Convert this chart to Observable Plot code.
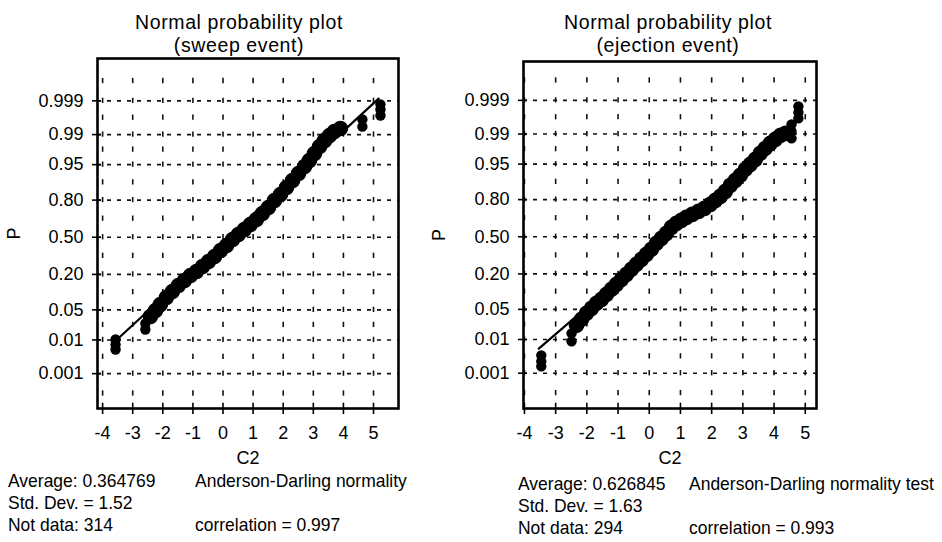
<!DOCTYPE html>
<html>
<head>
<meta charset="utf-8">
<script src="https://cdn.jsdelivr.net/npm/d3@7"></script>
<script src="https://cdn.jsdelivr.net/npm/@observablehq/plot@0.6"></script>
<style>
  body { margin: 0; background: #fff; }
  #wrap { position: relative; width: 942px; height: 542px; overflow: hidden;
          font-family: "Liberation Sans", Arial, Helvetica, sans-serif; color: #000; }
  .title { position: absolute; width: 320px; text-align: center; font-size: 19.5px; line-height: 22.5px;
           letter-spacing: 0.6px; white-space: nowrap; }
  .stat { position: absolute; font-size: 19px; line-height: 22px; white-space: nowrap;
          transform: scaleX(0.92); transform-origin: 0 0; }
  svg { position: absolute; }
</style>
</head>
<body>
<div id="wrap"></div>
<script>
// Probability axis ticks and C2 axis ticks
const pTicks = [0.001, 0.01, 0.05, 0.20, 0.50, 0.80, 0.95, 0.99, 0.999];
const pTickLabels = ["0.001", "0.01", "0.05", "0.20", "0.50", "0.80", "0.95", "0.99", "0.999"];
const c2Ticks = [-4, -3, -2, -1, 0, 1, 2, 3, 4, 5];

// Sweep event: ordered C2 values and their plotting probabilities
const sweepC2 = [-3.57, -3.57, -3.57, -2.58, -2.58, -2.41, -2.24, -2.08, -1.88, -1.68,
  -1.48, -1.28, -1.08, -0.88, -0.68, -0.48, -0.28, -0.08, 0.12, 0.32,
  0.51, 0.71, 0.91, 1.11, 1.31, 1.51, 1.71, 1.91, 2.11, 2.31,
  2.51, 2.71, 2.87, 3.04, 3.21, 3.37, 3.54, 3.70, 3.90, 4.63,
  4.63, 5.23, 5.23, 5.23];
const sweepP = [0.0103, 0.0075, 0.0055, 0.0183, 0.0253, 0.0362, 0.0486, 0.0639, 0.0863, 0.1096,
  0.1372, 0.1635, 0.1930, 0.2186, 0.2534, 0.2912, 0.3310, 0.3817, 0.4254, 0.4793,
  0.5243, 0.5691, 0.6133, 0.6558, 0.7043, 0.7495, 0.7971, 0.8333, 0.8699, 0.9004,
  0.9255, 0.9453, 0.9588, 0.9710, 0.9800, 0.9857, 0.9894, 0.9917, 0.9931, 0.9939,
  0.9962, 0.9971, 0.9981, 0.9987];
const sweepFitC2 = [-3.52, 5.17];
const sweepFitP = [0.0103, 0.99916];
const sweepStats = ["Average: 0.364769", "Std. Dev. = 1.52", "Not data: 314"];
const sweepTest = ["Anderson-Darling normality", "correlation = 0.997"];

// Ejection event: ordered C2 values and their plotting probabilities
const ejectC2 = [-3.46, -3.46, -3.46, -2.49, -2.49, -2.33, -2.17, -2.01, -1.85, -1.69,
  -1.53, -1.37, -1.21, -1.05, -0.89, -0.73, -0.57, -0.41, -0.25, -0.09,
  0.07, 0.23, 0.39, 0.55, 0.71, 0.87, 1.03, 1.19, 1.38, 1.58,
  1.77, 1.96, 2.12, 2.28, 2.44, 2.60, 2.76, 2.92, 3.08, 3.24,
  3.40, 3.56, 3.72, 3.88, 4.04, 4.21, 4.37, 4.56, 4.56, 4.56,
  4.78, 4.78, 4.78];
const ejectP = [0.00362, 0.00239, 0.00167, 0.01434, 0.00892, 0.0224, 0.0307, 0.0414, 0.0524, 0.0658,
  0.0781, 0.0960, 0.1168, 0.1405, 0.1673, 0.1971, 0.2302, 0.2660, 0.3043, 0.3450,
  0.3878, 0.4407, 0.4856, 0.5307, 0.5843, 0.6193, 0.6447, 0.6697, 0.6940, 0.7174,
  0.7399, 0.7685, 0.7951, 0.8199, 0.8481, 0.8778, 0.8992, 0.9179, 0.9366, 0.9495,
  0.9602, 0.9706, 0.9774, 0.9828, 0.9863, 0.9892, 0.9904, 0.9871, 0.9915, 0.99455,
  0.99634, 0.99758, 0.99843];
const ejectFitC2 = [-3.54, 4.59];
const ejectFitP = [0.00563, 0.9920];
const ejectStats = ["Average: 0.626845", "Std. Dev. = 1.63", "Not data: 294"];
const ejectTest = ["Anderson-Darling normality test", "correlation = 0.993"];

// Inverse standard normal CDF (Acklam), used as the probability scale transform
function probit(p) {
  const a = [-3.969683028665376e+01, 2.209460984245205e+02, -2.759285104469687e+02, 1.383577518672690e+02, -3.066479806614716e+01, 2.506628277459239e+00];
  const b = [-5.447609879822406e+01, 1.615858368580409e+02, -1.556989798598866e+02, 6.680131188771972e+01, -1.328068155288572e+01];
  const c = [-7.784894002430293e-03, -3.223964580411365e-01, -2.400758277161838e+00, -2.549732539343734e+00, 4.374664141464968e+00, 2.938163982698783e+00];
  const d = [7.784695709041462e-03, 3.224671290700398e-01, 2.445134137142996e+00, 3.754408661907416e+00];
  const pl = 0.02425;
  if (p < pl) {
    const q = Math.sqrt(-2 * Math.log(p));
    return (((((c[0]*q+c[1])*q+c[2])*q+c[3])*q+c[4])*q+c[5]) / ((((d[0]*q+d[1])*q+d[2])*q+d[3])*q+1);
  }
  if (p > 1 - pl) {
    const q = Math.sqrt(-2 * Math.log(1 - p));
    return -(((((c[0]*q+c[1])*q+c[2])*q+c[3])*q+c[4])*q+c[5]) / ((((d[0]*q+d[1])*q+d[2])*q+d[3])*q+1);
  }
  const q = p - 0.5, r = q * q;
  return (((((a[0]*r+a[1])*r+a[2])*r+a[3])*r+a[4])*r+a[5])*q / (((((b[0]*r+b[1])*r+b[2])*r+b[3])*r+b[4])*r+1);
}

// Standard normal CDF, used to place the short vertical grid dashes and inner ticks
function phi(z) {
  const t = 1 / (1 + 0.3275911 * Math.abs(z) / Math.SQRT2);
  const e = 1 - (((((1.061405429*t - 1.453152027)*t) + 1.421413741)*t - 0.284496736)*t + 0.254829592)*t * Math.exp(-z*z/2);
  return z >= 0 ? (1 + e) / 2 : (1 - e) / 2;
}

const wrap = document.getElementById("wrap");

function addText(cls, lines, left, top) {
  const el = document.createElement("div");
  el.className = cls;
  lines.forEach((line, i) => {
    if (i) el.appendChild(document.createElement("br"));
    el.appendChild(document.createTextNode(line));
  });
  el.style.left = left + "px";
  el.style.top = top + "px";
  wrap.appendChild(el);
  return el;
}

function drawPanel(cfg) {
  // isolated tail points are drawn smaller than the dense central run
  const points = cfg.c2.map((x, i) => ({x, p: cfg.p[i], tail: i < cfg.bandFrom || i > cfg.bandTo}));
  const fit = cfg.fitC2.map((x, i) => ({x, p: cfg.fitP[i]}));

  // vertical grid: short dashes on each gridline and halfway between them
  const tz = pTicks.map(probit);
  const rowZ = [tz[0] - 0.45, ...tz, tz[tz.length - 1] + 0.45];
  for (let i = 0; i < tz.length - 1; i++) rowZ.push((tz[i] + tz[i + 1]) / 2);
  const vGrid = [];
  for (const x of c2Ticks) for (const z of rowZ) vGrid.push({x, y1: phi(z - 0.06), y2: phi(z + 0.06)});

  const [x0] = cfg.xDomain;
  const [z0] = cfg.yDomain;

  const chart = Plot.plot({
    width: cfg.width,
    height: 475,
    marginLeft: cfg.marginLeft,
    marginRight: cfg.marginRight,
    marginTop: cfg.marginTop,
    marginBottom: 475 - 408,
    style: {fontFamily: "'Liberation Sans', Arial, sans-serif", fontSize: "18px", color: "#000", background: "transparent", overflow: "visible"},
    x: {domain: cfg.xDomain, label: "C2"},
    y: {domain: cfg.yDomain, transform: probit, label: "P"},
    marks: [
      Plot.ruleY(pTicks, {stroke: "#111", strokeWidth: 1.6, strokeDasharray: "4,6"}),
      Plot.ruleX(vGrid, {x: "x", y1: "y1", y2: "y2", stroke: "#111", strokeWidth: 1.6}),
      Plot.line(fit, {x: "x", y: "p", stroke: "#000", strokeWidth: 2.2}),
      Plot.dot(points, {filter: d => !d.tail, x: "x", y: "p", r: 7.8, fill: "#000", stroke: null}),
      Plot.dot(points, {filter: d => d.tail, x: "x", y: "p", r: 5.2, fill: "#000", stroke: null}),
      Plot.frame({stroke: "#000", strokeWidth: 2.6}),
      // inner halves of the tick marks, crossing the frame
      Plot.ruleX(c2Ticks, {y1: phi(z0), y2: phi(z0 + 0.12), stroke: "#000", strokeWidth: 1.6}),
      Plot.ruleY(pTicks, {x1: x0, x2: x0 + 0.13, stroke: "#000", strokeWidth: 1.6}),
      Plot.axisY(pTicks, {tickFormat: (d, i) => pTickLabels[i], tickSize: 5, tickPadding: 9, strokeWidth: 1.6,
        label: "P", labelAnchor: "center", labelArrow: "none", labelOffset: cfg.labelOffsetY}),
      Plot.axisX(c2Ticks, {tickFormat: d => String(d), tickSize: 6, tickPadding: 12, strokeWidth: 1.6,
        label: "C2", labelAnchor: "center", labelArrow: "none", labelOffset: 55})
    ]
  });
  chart.style.left = cfg.left + "px";
  chart.style.top = "0px";
  wrap.appendChild(chart);

  addText("title", ["Normal probability plot", cfg.sub], cfg.titleX - 160, 11);
  addText("stat", cfg.stats, cfg.statX, cfg.statTop);
  addText("stat", [cfg.test[0], "", cfg.test[1]], cfg.testX, cfg.statTop);
}

drawPanel({
  c2: sweepC2, p: sweepP, fitC2: sweepFitC2, fitP: sweepFitP, bandFrom: 5, bandTo: 38,
  left: 0, width: 420, marginLeft: 97, marginRight: 22, marginTop: 58,
  xDomain: [-4.17, 5.83], yDomain: [-3.88, 4.05], labelOffsetY: 90,
  titleX: 239, sub: "(sweep event)",
  stats: sweepStats, test: sweepTest, statX: 8, testX: 195, statTop: 470
});

drawPanel({
  c2: ejectC2, p: ejectP, fitC2: ejectFitC2, fitP: ejectFitP, bandFrom: 5, bandTo: 46,
  left: 420, width: 522, marginLeft: 103, marginRight: 126, marginTop: 61,
  xDomain: [-4.03, 5.36], yDomain: [-3.89, 3.97], labelOffsetY: 91,
  titleX: 668, sub: "(ejection event)",
  stats: ejectStats, test: ejectTest, statX: 518, testX: 689, statTop: 473
});
</script>
</body>
</html>
